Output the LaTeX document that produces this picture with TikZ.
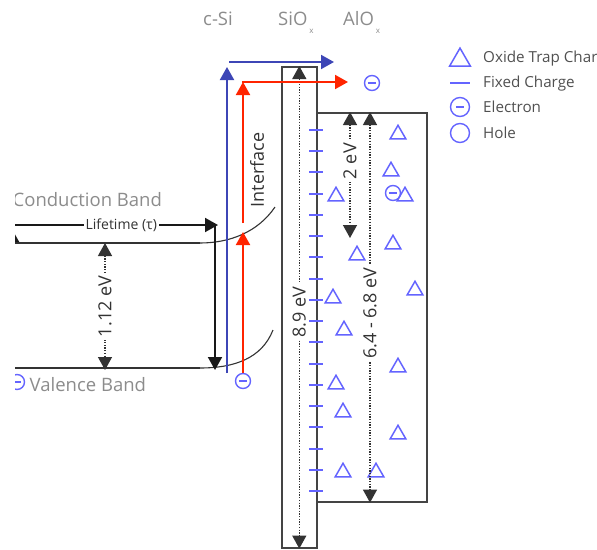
\documentclass[tikz,border=0pt]{standalone}
\usepackage{fontspec}
\setmainfont{Open Sans}
\usetikzlibrary{arrows.meta,positioning,shapes.geometric,calc}
\definecolor{ink}{HTML}{333333}
\definecolor{wall}{HTML}{444444}
\definecolor{chg}{HTML}{6464FF}
\definecolor{sibl}{HTML}{3D46B6}
\definecolor{hot}{HTML}{FF2400}
\definecolor{lbl}{HTML}{8C8C8C}
\definecolor{leg}{HTML}{505050}
\tikzset{
  layer/.style ={draw=wall,line width=1.6pt,inner sep=0pt},
  band/.style  ={draw=ink,line width=1.8pt},
  bandbend/.style={draw=ink,line width=1.1pt},
  gap/.style   ={<->,draw=ink,line width=1.3pt,dash pattern=on 1.3pt off 1.4pt},
  gaplbl/.style={midway,fill=white,rotate=90,inner sep=2.5pt,text=ink,
                 font=\fontsize{18}{20}\selectfont},
  life/.style  ={->,draw=black!90,line width=1.9pt},
  siline/.style={->,draw=sibl,line width=2pt},
  hotline/.style={->,draw=hot,line width=2pt},
  lab/.style   ={text=lbl,inner sep=0pt,font=\fontsize{18.5}{20}\selectfont},
  legtxt/.style={text=leg,inner sep=0pt,anchor=base west,
                 font=\fontsize{15.2}{17}\selectfont},
  fixed/.style ={fill=chg,minimum width=14pt,minimum height=2pt,inner sep=0pt},
  trap/.style  ={regular polygon,regular polygon sides=3,draw=chg,line width=1.5pt,
                 minimum size=18pt,inner sep=0pt,yshift=-2.3pt},
  elec/.style  ={circle,draw=chg,line width=1.4pt,minimum size=15pt,inner sep=0pt,
                 path picture={\draw[chg,line width=1.4pt]
                   ([xshift=-4.2pt]path picture bounding box.center) --
                   ([xshift=4.2pt]path picture bounding box.center);}},
  hole/.style  ={circle,draw=chg,line width=1.4pt,minimum size=19pt,inner sep=0pt}
}
\begin{document}
\begin{tikzpicture}[x=1pt,y=-1pt,>={Triangle[width=14pt,length=13pt]}]
  \useasboundingbox (0,0) rectangle (597,549);
  \begin{scope}
    \clip (15,0) rectangle (597,549);
    % oxide layers
    \node[layer,minimum width=35pt,minimum height=481pt,anchor=north west] (sio) at (281,66) {};
    \node[layer,minimum width=110pt,minimum height=389pt,anchor=north west] (alo) at (316,112) {};
    \foreach \i in {0,...,17}
      \node[fixed] (fc\i) at (316,{130+21.24*\i}) {};
    \foreach \x/\y [count=\i] in {398/132,391/169,336/194,405/194,393/242,357/253,415/288,
        333/296,344/328,398/365,336/382,343/410,398/432,343/470,376/470}
      \node[trap] (tr\i) at (\x,\y) {};
    % bands of c-Si
    \coordinate (cb0) at (10,243); \coordinate (cb1) at (200,243); \coordinate (cb2) at (275,207);
    \coordinate (vb0) at (10,368); \coordinate (vb1) at (200,368); \coordinate (vb2) at (273,330);
    \draw[band] (cb0) -- (cb1);
    \draw[bandbend] (cb1) .. controls (230,243) and (258,232) .. (cb2);
    \draw[band] (vb0) -- (vb1);
    \draw[bandbend] (vb1) .. controls (235,368) and (262,358) .. (vb2);
    % band gaps
    \coordinate (gx) at (105,0); \coordinate (ae) at (350,238); \coordinate (ao) at (370,0);
    \draw[gap] (cb0 -| gx) -- ([yshift=-2pt]vb0 -| gx) node[gaplbl] {1.12 eV};
    \draw[gap] (sio.north) -- (sio.south) node[gaplbl,pos=0.51] {8.9 eV};
    \draw[gap] (alo.north -| ae) -- (ae) node[gaplbl,pos=0.39] {2 eV};
    \draw[gap] (alo.north -| ao) -- (alo.south -| ao) node[gaplbl,pos=0.515] {6.4 - 6.8 eV};
    % lifetime and recombination
    \coordinate (lt0) at (10,225); \coordinate (lt1) at (218,225);
    \coordinate (rc0) at (215,225); \coordinate (rc1) at (215,370);
    \coordinate (gn0) at (12,367); \coordinate (gn1) at (12,229);
    \draw[life] (gn0) -- (gn1);
    \draw[life] (lt0) -- (lt1)
      node[pos=0.535,fill=white,text=ink,inner sep=2pt,font=\fontsize{14}{15}\selectfont] {Lifetime (τ)};
    \draw[life] (rc0) -- (rc1);
    % electrons
    \node[elec] (e1) at (243,381) {};
    \node[elec] (e2) at (372,83) {};
    \node[elec] (e3) at (393,193) {};
    \node[elec] (e4) at (17,382) {};
    % carrier paths
    \coordinate (bl0) at (227,373); \coordinate (bl1) at (227,67);
    \coordinate (bl2) at (229,62);  \coordinate (bl3) at (334,62);
    \draw[siline] (bl0) -- (bl1);
    \draw[siline] (bl2) -- (bl3);
    \coordinate (rd1) at (243,232); \coordinate (rd2) at (243,223);
    \coordinate (rd3) at (243,82);  \coordinate (rd4) at (348,82);
    \draw[hotline] (e1) -- (rd1);
    \draw[hotline] (rd2) -- (rd3);
    \draw[hotline] ([xshift=-1pt]rd3) -- (rd4);
    % labels
    \node[lab,anchor=west] (cbl) at (12.5,200) {Conduction Band};
    \node[lab,anchor=west] (vbl) at (29.5,385) {Valence Band};
    \node[rotate=90,text=ink,font=\fontsize{18}{20}\selectfont] (itf) at (257,170) {Interface};
    \node[lab,anchor=base west] (csi) at (203,25) {c-Si};
    \node[lab,anchor=base west] (sil) at (278,25) {SiO\hspace{2pt}\raisebox{-8pt}{\fontsize{8}{8}\selectfont x}};
    \node[lab,anchor=base west] (all) at (343,25) {AlO\hspace{2pt}\raisebox{-8pt}{\fontsize{8}{8}\selectfont x}};
    % legend
    \node[trap,minimum size=24pt,yshift=-0.8pt] (lg1) at (460,57) {};
    \node[fixed,minimum width=20pt] (lg2) at (460,83) {};
    \node[elec,minimum size=19pt] (lg3) at (460,107) {};
    \node[hole] (lg4) at (460,133) {};
    \node[legtxt] (k1) at (483,62) {Oxide Trap Charge};
    \node[legtxt] (k2) at (483,87) {Fixed Charge};
    \node[legtxt] (k3) at (483,112) {Electron};
    \node[legtxt] (k4) at (483,138) {Hole};
  \end{scope}
\end{tikzpicture}
\end{document}
